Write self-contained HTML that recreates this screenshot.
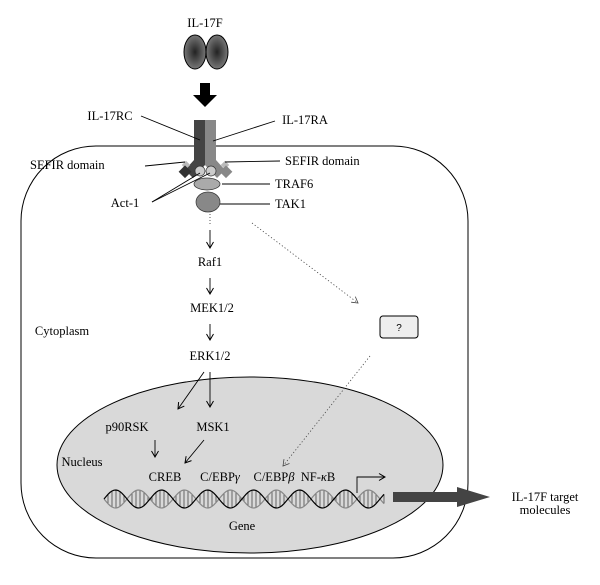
<!DOCTYPE html>
<html><head><meta charset="utf-8"><style>
body{margin:0;background:#fff}
svg{display:block}
svg text{font-family:"Liberation Serif","Times New Roman",serif;font-size:12.5px}
</style></head><body>
<svg width="600" height="585" viewBox="0 0 600 585" font-family="Liberation Serif, serif">
<defs>
<radialGradient id="lg" cx="0.5" cy="0.5" r="0.5"><stop offset="0" stop-color="#222"/><stop offset="1" stop-color="#777"/></radialGradient>
<marker id="ah" markerWidth="8" markerHeight="8" refX="7" refY="4" orient="auto" markerUnits="userSpaceOnUse"><path d="M1,0.5 L7,4 L1,7.5" fill="none" stroke="#000" stroke-width="1"/></marker>
<marker id="ahd" markerWidth="8" markerHeight="8" refX="7" refY="4" orient="auto" markerUnits="userSpaceOnUse"><path d="M1,0.5 L7,4 L1,7.5" fill="none" stroke="#444" stroke-width="0.8"/></marker>
</defs>
<rect x="21" y="146" width="447" height="412" rx="75" ry="75" fill="none" stroke="#000" stroke-width="1"/>
<text x="62" y="335" text-anchor="middle">Cytoplasm</text>
<ellipse cx="250" cy="465" rx="193" ry="88" fill="#d9d9d9" stroke="#000" stroke-width="1"/>
<text x="82" y="466" text-anchor="middle">Nucleus</text>
<text x="205" y="27" text-anchor="middle">IL-17F</text>
<ellipse cx="195" cy="52" rx="11" ry="17" fill="url(#lg)" stroke="#000"/>
<ellipse cx="217" cy="52" rx="11" ry="17" fill="url(#lg)" stroke="#000"/>
<path d="M200,83 L210,83 L210,95 L217,95 L205,107 L193,95 L200,95 Z" fill="#000"/>
<path d="M194,120 L205,120 L205,165 L193,178 L185,170 L194,160 Z" fill="#444"/>
<path d="M205,120 L216,120 L216,160 L225,170 L217,178 L205,165 Z" fill="#888"/>
<rect x="183" y="162" width="6" height="6" fill="#bbb" transform="rotate(45 186 165)"/>
<rect x="222" y="162" width="6" height="6" fill="#bbb" transform="rotate(45 225 165)"/>
<rect x="181" y="167" width="9" height="9" fill="#333" transform="rotate(45 185 171)"/>
<rect x="222" y="167" width="9" height="9" fill="#888" transform="rotate(45 226 171)"/>
<ellipse cx="200" cy="171" rx="5" ry="5" fill="#ccc" stroke="#333" stroke-width="0.7"/>
<ellipse cx="211" cy="171" rx="5" ry="5" fill="#ccc" stroke="#333" stroke-width="0.7"/>
<ellipse cx="207" cy="184" rx="13" ry="6" fill="#aaa" stroke="#333" stroke-width="0.7"/>
<ellipse cx="208" cy="202" rx="12" ry="10" fill="#888" stroke="#333" stroke-width="0.7"/>
<g stroke="#000" stroke-width="0.9">
<line x1="141" y1="116" x2="200" y2="140"/><line x1="275" y1="121" x2="213" y2="141"/>
<line x1="145" y1="166" x2="185" y2="162"/><line x1="225" y1="162" x2="280" y2="161"/>
<line x1="222" y1="184" x2="270" y2="184"/><line x1="220" y1="204" x2="270" y2="204"/>
<line x1="152" y1="202" x2="200" y2="173"/><line x1="152" y1="202" x2="210" y2="173"/>
</g>
<text x="110" y="120" text-anchor="middle">IL-17RC</text>
<text x="305" y="124" text-anchor="middle">IL-17RA</text>
<text x="30" y="169">SEFIR domain</text>
<text x="285" y="165">SEFIR domain</text>
<text x="275" y="188">TRAF6</text>
<text x="275" y="208">TAK1</text>
<text x="125" y="207" text-anchor="middle">Act-1</text>
<line x1="210" y1="214" x2="210" y2="225" stroke="#555" stroke-dasharray="1,2"/>
<g stroke="#000" stroke-width="0.9" marker-end="url(#ah)">
<line x1="210" y1="230" x2="210" y2="248"/><line x1="210" y1="278" x2="210" y2="294"/>
<line x1="210" y1="324" x2="210" y2="340"/><line x1="204" y1="372" x2="178" y2="409"/>
<line x1="210" y1="372" x2="210" y2="407"/><line x1="155" y1="440" x2="155" y2="457"/>
<line x1="204" y1="440" x2="185" y2="463"/>
</g>
<text x="210" y="266" text-anchor="middle">Raf1</text>
<text x="212" y="312" text-anchor="middle">MEK1/2</text>
<text x="210" y="360" text-anchor="middle">ERK1/2</text>
<text x="127" y="431" text-anchor="middle">p90RSK</text>
<text x="213" y="431" text-anchor="middle">MSK1</text>
<g stroke="#444" stroke-width="0.8" stroke-dasharray="1.2,2.2" fill="none" marker-end="url(#ahd)">
<line x1="252" y1="223" x2="358" y2="303"/><line x1="370" y1="356" x2="283" y2="466"/>
</g>
<rect x="380" y="316" width="38" height="22" rx="3" fill="#eee" stroke="#000"/>
<text x="399" y="331" text-anchor="middle" style="font-size:10px;font-family:'Liberation Sans',sans-serif">?</text>
<text x="165" y="481" text-anchor="middle">CREB</text>
<text x="220" y="481" text-anchor="middle">C/EBP<tspan font-style="italic">γ</tspan></text>
<text x="274" y="481" text-anchor="middle">C/EBP<tspan font-style="italic">β</tspan></text>
<text x="318" y="481" text-anchor="middle">NF-<tspan font-style="italic">κ</tspan>B</text>
<path d="M357,493 L357,477 L385,477" fill="none" stroke="#000" stroke-width="0.9" marker-end="url(#ah)"/>
<g id="dna"></g>
<text x="242" y="530" text-anchor="middle">Gene</text>
<path d="M393,492 L457,492 L457,487 L490,497 L457,507 L457,502 L393,502 Z" fill="#444"/>
<text x="545" y="501" text-anchor="middle">IL-17F target</text>
<text x="545" y="514" text-anchor="middle">molecules</text>
</svg>
<script>
const g=document.getElementById('dna');const ns='http://www.w3.org/2000/svg';
let d1='',d2='';const x0=104,x1=385,cy=499,A=9,per=46;
for(let x=x0;x<=x1;x+=2){const p=(x-x0)/per*2*Math.PI;const y1=cy-A*Math.sin(p),y2=cy+A*Math.sin(p);d1+=(x==x0?'M':'L')+x+','+y1.toFixed(1);d2+=(x==x0?'M':'L')+x+','+y2.toFixed(1);
if(x%4==0&&Math.abs(Math.sin(p))>0.25){const l=document.createElementNS(ns,'line');l.setAttribute('x1',x);l.setAttribute('x2',x);l.setAttribute('y1',y1);l.setAttribute('y2',y2);l.setAttribute('stroke','#333');l.setAttribute('stroke-width','0.7');g.appendChild(l);}}
[[d2,'#888'],[d1,'#000']].forEach(([d,c])=>{const p=document.createElementNS(ns,'path');p.setAttribute('d',d);p.setAttribute('fill','none');p.setAttribute('stroke',c);p.setAttribute('stroke-width','1.2');g.appendChild(p);});
</script>
</body></html>
